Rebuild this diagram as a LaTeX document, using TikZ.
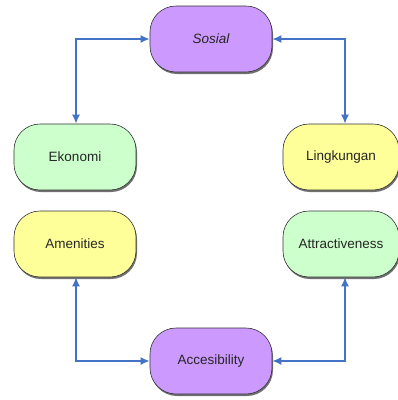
\documentclass[tikz,border=0pt]{standalone}
\usepackage{fontspec}
\setmainfont{Liberation Sans}
\usetikzlibrary{arrows.meta,shadows}
\definecolor{cpurple}{RGB}{204,153,255}
\definecolor{cgreen}{RGB}{204,255,204}
\definecolor{cyellow}{RGB}{255,255,153}
\definecolor{cblue}{RGB}{68,114,196}
\tikzset{
  box/.style={draw=black!80, line width=0.6pt, rounded corners=26pt, minimum width=122pt, minimum height=66pt, inner sep=0pt, font=\fontsize{13.5}{15}\selectfont, text=black!85,
    drop shadow={shadow xshift=1pt, shadow yshift=-2pt, fill=black!70, opacity=0.8}},
  link/.style={draw=cblue, line width=1.6pt, {Latex[length=9pt,width=8pt]}-{Latex[length=9pt,width=8pt]}}
}
\begin{document}
\begin{tikzpicture}[x=1pt,y=-1pt]
\useasboundingbox (0,0) rectangle (398,400);
\clip (0,0) rectangle (398,400);
\node[box, fill=cpurple, font=\fontsize{13.5}{15}\selectfont\itshape] (sos) at (211,39) {Sosial};
\node[box, fill=cgreen] (eko) at (75,157) {Ekonomi};
\node[box, fill=cyellow, minimum width=116pt] (lin) at (341,157) {Lingkungan};
\node[box, fill=cyellow] (ame) at (75,244) {Amenities};
\node[box, fill=cgreen, minimum width=116pt] (att) at (341,244) {Attractiveness};
\node[box, fill=cpurple] (acc) at (211,361) {Accesibility};
\draw[link] (sos.west) -| ([xshift=1pt]eko.north);
\draw[link] (sos.east) -| ([xshift=4pt]lin.north);
\draw[link] ([xshift=1pt]ame.south) |- (acc.west);
\draw[link] ([xshift=4pt]att.south) |- (acc.east);
\end{tikzpicture}
\end{document}
